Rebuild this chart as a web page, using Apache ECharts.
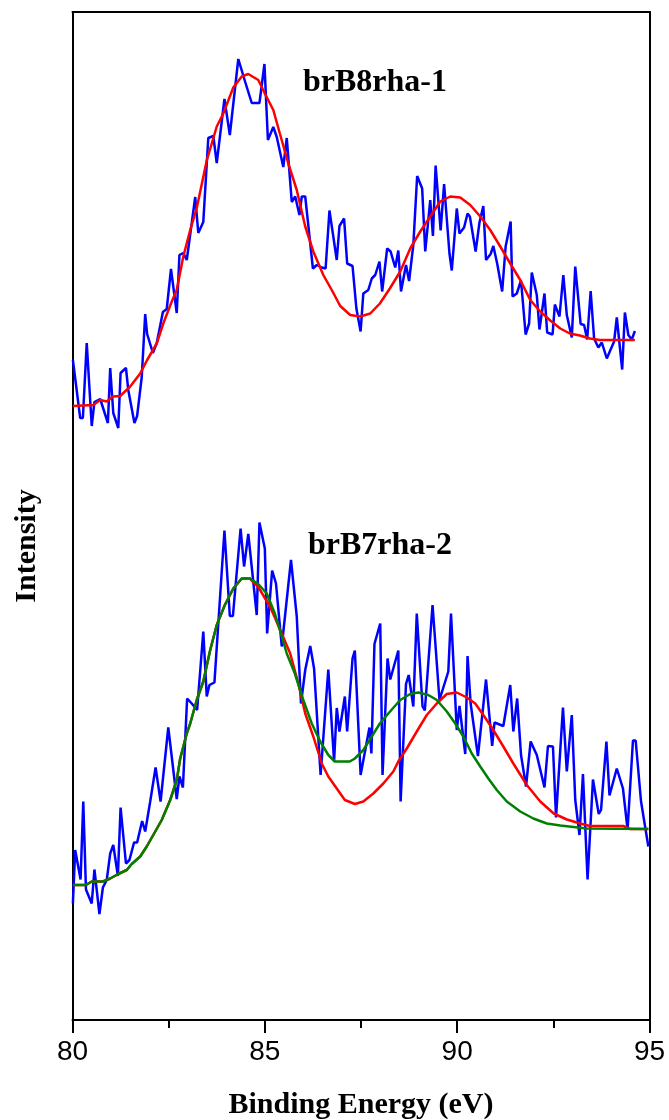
<!DOCTYPE html>
<html>
<head>
<meta charset="utf-8">
<title>XPS B 1s spectra</title>
<script src="https://cdn.jsdelivr.net/npm/echarts@6/dist/echarts.min.js"></script>
<style>
  html, body { margin: 0; padding: 0; background: #fff; }
  #chart { width: 669px; height: 1120px; }
</style>
</head>
<body>
<div id="chart"></div>
<script>
// Binding energy (eV) and intensity (counts) pairs.

// brB8rha-1: measured scan
const scanB8 = [
  [80.01,166],[80.20,50],[80.27,50],[80.37,200],[80.50,34],[80.57,82],[80.72,88],[80.92,40],[80.98,150],[81.06,60],
  [81.19,30],[81.25,140],[81.39,150],[81.45,106],[81.61,40],[81.68,54],[81.80,132],[81.89,258],[81.94,218],[82.09,180],
  [82.19,200],[82.35,262],[82.45,268],[82.56,348],[82.71,260],[82.78,376],[82.88,380],[82.97,366],[83.10,440],[83.19,492],
  [83.27,420],[83.40,442],[83.53,610],[83.66,614],[83.75,560],[83.95,688],[84.09,616],[84.31,768],[84.49,722],[84.66,680],
  [84.86,680],[84.99,758],[85.08,606],[85.22,632],[85.31,612],[85.48,552],[85.57,610],[85.70,482],[85.79,493],[85.90,456],
  [85.96,493],[86.05,493],[86.25,349],[86.35,356],[86.48,351],[86.58,349],[86.68,465],[86.87,366],[86.94,434],[87.06,449],
  [87.14,359],[87.28,354],[87.38,269],[87.49,223],[87.56,299],[87.69,306],[87.78,329],[87.87,336],[87.98,363],[88.05,303],
  [88.18,389],[88.27,383],[88.39,351],[88.47,385],[88.54,303],[88.67,356],[88.75,324],[88.86,396],[88.96,534],[89.09,509],
  [89.17,383],[89.30,486],[89.37,414],[89.44,555],[89.57,425],[89.66,518],[89.80,379],[89.86,345],[89.99,469],[90.06,419],
  [90.18,431],[90.27,459],[90.33,453],[90.48,383],[90.58,441],[90.68,474],[90.75,366],[90.87,378],[90.94,394],[91.04,359],
  [91.17,303],[91.26,393],[91.39,443],[91.44,293],[91.55,299],[91.66,325],[91.78,217],[91.87,239],[91.94,341],[92.07,296],
  [92.14,227],[92.27,299],[92.34,221],[92.48,217],[92.54,277],[92.66,253],[92.76,336],[92.85,256],[92.98,211],[93.07,353],
  [93.21,238],[93.30,236],[93.38,207],[93.47,304],[93.56,209],[93.67,191],[93.76,201],[93.89,169],[93.99,187],[94.08,203],
  [94.15,251],[94.29,147],[94.36,261],[94.45,216],[94.54,207],[94.62,224]
];

// brB8rha-1: fitted envelope
const fitB8 = [
  [80.01,74],[80.54,76],[80.72,86],[80.89,83],[81.05,93],[81.24,94],[81.50,113],[81.76,139],[81.94,166],[82.19,199],
  [82.36,239],[82.58,283],[82.71,306],[82.88,373],[83.06,426],[83.23,470],[83.49,565],[83.75,633],[83.92,659],[84.18,711],
  [84.40,733],[84.57,738],[84.83,726],[85.00,699],[85.22,666],[85.39,619],[85.61,559],[85.83,506],[86.05,433],[86.26,383],
  [86.52,336],[86.74,306],[86.96,274],[87.22,256],[87.48,253],[87.74,259],[87.99,279],[88.25,309],[88.52,343],[88.78,389],
  [89.04,423],[89.30,453],[89.56,483],[89.82,493],[90.08,491],[90.34,476],[90.60,453],[90.86,426],[91.12,393],[91.38,359],
  [91.64,326],[91.90,286],[92.16,263],[92.42,245],[92.68,229],[92.93,219],[93.19,215],[93.45,209],[93.71,206],[94.62,206]
];

// brB7rha-2: measured scan
const scanB7 = [
  [80.01,233],[80.07,340],[80.21,281],[80.28,437],[80.35,261],[80.50,233],[80.57,301],[80.70,212],[80.79,265],[80.89,280],
  [80.98,333],[81.06,350],[81.18,288],[81.25,425],[81.39,313],[81.48,320],[81.60,355],[81.68,355],[81.81,398],[81.89,377],
  [82.02,437],[82.16,505],[82.29,437],[82.49,585],[82.71,442],[82.78,487],[82.87,465],[82.98,643],[83.10,633],[83.24,620],
  [83.40,777],[83.49,647],[83.56,670],[83.69,675],[83.95,979],[84.09,808],[84.17,808],[84.37,983],[84.46,907],[84.57,972],
  [84.79,810],[84.86,995],[85.00,943],[85.06,773],[85.19,899],[85.29,873],[85.44,747],[85.68,920],[85.83,807],[85.94,633],
  [86.05,700],[86.18,748],[86.28,703],[86.45,490],[86.65,701],[86.80,517],[86.87,624],[86.94,577],[87.08,647],[87.14,577],
  [87.28,723],[87.34,739],[87.49,490],[87.72,585],[87.77,533],[87.85,752],[88.00,793],[88.06,490],[88.19,723],[88.26,681],
  [88.47,739],[88.53,437],[88.67,672],[88.74,690],[88.86,627],[88.95,813],[89.10,627],[89.16,619],[89.36,830],[89.54,640],
  [89.77,697],[89.84,813],[89.99,580],[90.06,628],[90.21,532],[90.27,728],[90.35,633],[90.54,528],[90.75,681],[90.91,548],
  [90.97,595],[91.20,588],[91.38,670],[91.46,577],[91.56,643],[91.66,530],[91.79,467],[91.91,557],[92.07,530],[92.27,465],
  [92.36,548],[92.49,547],[92.57,405],[92.75,625],[92.85,497],[92.98,610],[93.07,440],[93.18,370],[93.27,492],[93.39,281],
  [93.53,481],[93.68,412],[93.74,420],[93.88,557],[93.96,449],[94.15,503],[94.31,463],[94.43,381],[94.57,559],[94.64,559],
  [94.78,437],[94.97,347]
];

// brB7rha-2: envelope fitted with the brB8rha-1 peak positions
const fitB7Red = [
  [80.01,270],[80.35,270],[80.50,277],[80.79,277],[80.98,283],[81.19,292],[81.41,300],[81.54,312],[81.76,327],[81.93,347],
  [82.10,370],[82.32,400],[82.54,440],[82.71,480],[82.80,523],[82.97,573],[83.06,593],[83.23,640],[83.40,677],[83.58,740],
  [83.75,790],[83.96,830],[84.18,863],[84.40,883],[84.61,883],[84.83,866],[85.14,826],[85.40,780],[85.66,733],[85.87,673],
  [86.05,613],[86.26,567],[86.48,513],[86.65,487],[86.87,463],[87.08,440],[87.34,432],[87.56,437],[87.82,453],[88.08,473],
  [88.34,497],[88.47,517],[88.69,543],[88.95,577],[89.21,610],[89.47,633],[89.73,652],[89.99,655],[90.25,645],[90.47,633],
  [90.68,610],[90.94,580],[91.20,547],[91.46,513],[91.81,470],[92.16,437],[92.51,413],[92.85,401],[93.20,393],[93.45,388],
  [94.32,388],[94.50,382],[94.97,382]
];

// brB7rha-2: envelope with free peak positions
const fitB7Green = [
  [80.01,270],[80.35,270],[80.50,277],[80.79,277],[80.98,283],[81.19,292],[81.41,300],[81.54,312],[81.76,327],[81.93,347],
  [82.10,370],[82.32,400],[82.54,440],[82.71,480],[82.80,523],[82.97,573],[83.06,593],[83.23,640],[83.40,677],[83.58,740],
  [83.75,790],[83.96,830],[84.18,863],[84.40,883],[84.61,883],[84.83,872],[85.05,853],[85.26,813],[85.44,767],[85.57,733],
  [85.78,693],[86.00,640],[86.22,593],[86.44,557],[86.65,530],[86.82,517],[87.21,517],[87.34,523],[87.56,540],[87.78,567],
  [87.99,593],[88.21,613],[88.52,640],[88.78,652],[88.99,655],[89.25,650],[89.47,640],[89.73,617],[89.95,593],[90.16,567],
  [90.38,533],[90.60,507],[90.81,483],[91.03,460],[91.29,437],[91.64,417],[91.98,403],[92.33,393],[92.68,389],[93.37,383],
  [94.97,382]
];

const sampleNames = ['brB8rha-1', 'brB7rha-2'];
const energyRange = [80, 95];
const countRangeTop = [0, 862];
const countRangeBottom = [0, 1154];

const SERIF = '"Liberation Serif", "Times New Roman", Times, serif';
const SANS = '"Liberation Sans", Arial, Helvetica, sans-serif';
const frameLine = { show: true, onZero: false, lineStyle: { color: '#000', width: 2 } };
const hidden = { show: false };

function lineSeries(data, color, xi, yi, z) {
  return {
    type: 'line', data: data, xAxisIndex: xi, yAxisIndex: yi,
    showSymbol: false, symbol: 'none', smooth: false, z: z,
    lineStyle: { color: color, width: 2.5 }, animation: false
  };
}

const chart = echarts.init(document.getElementById('chart'), null, { renderer: 'canvas' });

chart.setOption({
  backgroundColor: '#ffffff',
  animation: false,
  grid: [
    { left: 72.5, right: 19.5, top: 12, height: 431, containLabel: false, outerBoundsMode: 'none' },
    { left: 72.5, right: 19.5, top: 443, height: 577, containLabel: false, outerBoundsMode: 'none' }
  ],
  xAxis: [
    {
      type: 'value', gridIndex: 0, position: 'top',
      min: energyRange[0], max: energyRange[1], interval: 5,
      axisLine: frameLine, axisTick: hidden, axisLabel: hidden, splitLine: hidden
    },
    {
      type: 'value', gridIndex: 1, position: 'bottom',
      min: energyRange[0], max: energyRange[1], interval: 5,
      axisLine: frameLine,
      axisTick: { show: true, inside: false, length: 13, lineStyle: { color: '#000', width: 2 } },
      minorTick: { show: true, splitNumber: 2, length: 8, lineStyle: { color: '#000', width: 2 } },
      axisLabel: { show: true, color: '#000', fontFamily: SANS, fontSize: 28, margin: 18 },
      splitLine: hidden,
      name: 'Binding Energy (eV)', nameLocation: 'middle', nameGap: 70,
      nameTextStyle: { color: '#000', fontFamily: SERIF, fontWeight: 'bold', fontSize: 30 }
    }
  ],
  yAxis: [
    {
      type: 'value', gridIndex: 0, position: 'left',
      min: countRangeTop[0], max: countRangeTop[1],
      axisLine: frameLine, axisTick: hidden, axisLabel: hidden, splitLine: hidden
    },
    {
      type: 'value', gridIndex: 0, position: 'right',
      min: countRangeTop[0], max: countRangeTop[1],
      axisLine: frameLine, axisTick: hidden, axisLabel: hidden, splitLine: hidden
    },
    {
      type: 'value', gridIndex: 1, position: 'left',
      min: countRangeBottom[0], max: countRangeBottom[1],
      axisLine: frameLine, axisTick: hidden, axisLabel: hidden, splitLine: hidden
    },
    {
      type: 'value', gridIndex: 1, position: 'right',
      min: countRangeBottom[0], max: countRangeBottom[1],
      axisLine: frameLine, axisTick: hidden, axisLabel: hidden, splitLine: hidden
    }
  ],
  series: [
    lineSeries(scanB8, '#0000ff', 0, 0, 2),
    lineSeries(fitB8, '#ff0000', 0, 0, 3),
    lineSeries(scanB7, '#0000ff', 1, 2, 2),
    lineSeries(fitB7Red, '#ff0000', 1, 2, 3),
    lineSeries(fitB7Green, '#008000', 1, 2, 4)
  ],
  graphic: [
    {
      type: 'text', x: 303, y: 83, z: 10,
      style: { text: sampleNames[0], font: 'bold 32px ' + SERIF, fill: '#000', align: 'left', verticalAlign: 'middle' }
    },
    {
      type: 'text', x: 308, y: 546, z: 10,
      style: { text: sampleNames[1], font: 'bold 32px ' + SERIF, fill: '#000', align: 'left', verticalAlign: 'middle' }
    },
    {
      type: 'text', x: 27, y: 546, rotation: Math.PI / 2, z: 10,
      style: { text: 'Intensity', font: 'bold 30px ' + SERIF, fill: '#000', align: 'center', verticalAlign: 'middle' }
    }
  ]
});
</script>
</body>
</html>
